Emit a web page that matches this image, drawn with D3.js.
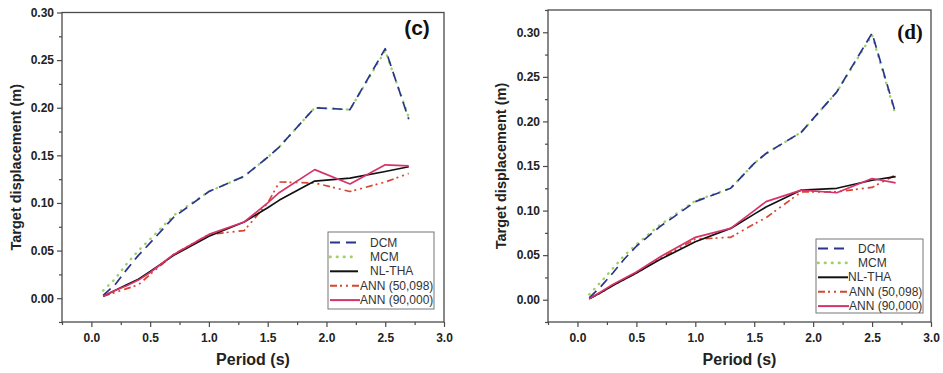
<!DOCTYPE html>
<html>
<head>
<meta charset="utf-8">
<script src="https://cdn.jsdelivr.net/npm/d3@7"></script>
<style>
  html, body { margin: 0; padding: 0; background: #fff; }
  svg { display: block; font-family: Arial, "Liberation Sans", sans-serif; }
</style>
</head>
<body>
<svg id="chart" width="943" height="373"></svg>
<script>
// ---------- data ----------
const periods = [0.1, 0.2, 0.3, 0.4, 0.5, 0.7, 1.0, 1.3, 1.5, 1.6, 1.9, 2.2, 2.5, 2.7];
const seriesNames = ["DCM", "MCM", "NL-THA", "ANN (50,098)", "ANN (90,000)"];

// panel (c)
const dcmC   = [0.003, 0.014, 0.030, 0.045, 0.058, 0.085, 0.112, 0.128, 0.148, 0.159, 0.200, 0.198, 0.262, 0.188];
const mcmC   = [0.008, 0.020, 0.036, 0.050, 0.062, 0.087, 0.112, 0.128, 0.148, 0.159, 0.200, 0.198, 0.260, 0.190];
const nlthaC = [0.002, 0.008, 0.014, 0.020, 0.028, 0.045, 0.065, 0.080, 0.095, 0.103, 0.123, 0.126, 0.133, 0.138];
const ann50C = [0.002, 0.006, 0.010, 0.014, 0.025, 0.046, 0.067, 0.071, 0.100, 0.122, 0.121, 0.112, 0.122, 0.131];
const ann90C = [0.002, 0.008, 0.013, 0.019, 0.027, 0.046, 0.067, 0.080, 0.100, 0.111, 0.135, 0.120, 0.140, 0.139];

// panel (d)
const dcmD   = [0.002, 0.015, 0.030, 0.046, 0.060, 0.082, 0.110, 0.125, 0.153, 0.164, 0.188, 0.233, 0.299, 0.209];
const mcmD   = [0.006, 0.020, 0.035, 0.050, 0.062, 0.084, 0.111, 0.125, 0.153, 0.164, 0.188, 0.233, 0.297, 0.207];
const nlthaD = [0.001, 0.008, 0.016, 0.023, 0.030, 0.045, 0.065, 0.080, 0.096, 0.104, 0.123, 0.125, 0.134, 0.138];
const ann50D = [0.001, 0.008, 0.016, 0.023, 0.030, 0.046, 0.068, 0.070, 0.085, 0.092, 0.121, 0.121, 0.126, 0.140];
const ann90D = [0.001, 0.009, 0.017, 0.024, 0.031, 0.048, 0.070, 0.080, 0.100, 0.110, 0.123, 0.120, 0.136, 0.131];

const xTickValues = [0.0, 0.5, 1.0, 1.5, 2.0, 2.5, 3.0];
const yTickValues = [0.00, 0.05, 0.10, 0.15, 0.20, 0.25, 0.30];
const xTitle = "Period (s)";
const yTitle = "Target displacement (m)";

// ---------- styles ----------
const styles = {
  "DCM":          { color: "#27358c", dash: "10,6",           width: 1.7, cap: "butt" },
  "MCM":          { color: "#9fd06a", dash: "0.5,6.5",        width: 2.4, cap: "round" },
  "NL-THA":       { color: "#111111", dash: null,             width: 1.7, cap: "butt" },
  "ANN (50,098)": { color: "#d8452e", dash: "7,3,2,4,2,4",    width: 1.7, cap: "butt" },
  "ANN (90,000)": { color: "#d6336c", dash: null,             width: 1.7, cap: "butt" }
};
const drawOrder = ["MCM", "DCM", "ANN (50,098)", "NL-THA", "ANN (90,000)"];

const panels = [
  {
    label: "(c)", labelFont: "Arial, 'Liberation Sans', sans-serif", labelX: 417, labelY: 35,
    box: { x0: 62, x1: 444, y0: 12.5, y1: 322 },
    yMax: 0.30,
    values: { "DCM": dcmC, "MCM": mcmC, "NL-THA": nlthaC, "ANN (50,098)": ann50C, "ANN (90,000)": ann90C },
    yTitleX: 16, xTitleY: 365,
    legend: { x0: 328, x1: 434, y0: 232, y1: 309, row0: 242.5, rowStep: 14.4, lineX0: 330,
              lineEnd: [358, 358, 358, 360, 360], textX: [370, 370, 370, 360, 360] }
  },
  {
    label: "(d)", labelFont: "'Liberation Serif', 'DejaVu Serif', serif", labelX: 910, labelY: 39,
    box: { x0: 548, x1: 931, y0: 10, y1: 322 },
    yMax: 0.325,
    values: { "DCM": dcmD, "MCM": mcmD, "NL-THA": nlthaD, "ANN (50,098)": ann50D, "ANN (90,000)": ann90D },
    yTitleX: 501, xTitleY: 365,
    legend: { x0: 816, x1: 923, y0: 239, y1: 313, row0: 248.5, rowStep: 14.4, lineX0: 818,
              lineEnd: [847, 847, 848, 849, 849], textX: [858, 858, 848, 849, 849] }
  }
];

const axisColor = "#4a4a4a";
const svg = d3.select("#chart");

panels.forEach(p => {
  const g = svg.append("g");
  const x = d3.scaleLinear().domain([-0.25, 3.0]).range([p.box.x0, p.box.x1]);
  const y = d3.scaleLinear().domain([-0.025, p.yMax]).range([p.box.y1, p.box.y0]);

  // frame
  g.append("rect")
    .attr("x", p.box.x0).attr("y", p.box.y0)
    .attr("width", p.box.x1 - p.box.x0).attr("height", p.box.y1 - p.box.y0)
    .attr("fill", "none").attr("stroke", axisColor).attr("stroke-width", 1.3);

  // minor ticks
  const xMinor = d3.range(-0.25, 3.0001, 0.25).filter(v => Math.abs(v * 2 - Math.round(v * 2)) > 1e-6);
  const yMinor = d3.range(-0.025, p.yMax + 0.0001, 0.025).filter(v => Math.abs(v * 20 - Math.round(v * 20)) > 1e-6);

  const xAxisMinor = d3.axisBottom(x).tickValues(xMinor).tickSize(3).tickFormat("");
  const yAxisMinor = d3.axisLeft(y).tickValues(yMinor).tickSize(3).tickFormat("");
  g.append("g").attr("transform", `translate(0,${p.box.y1})`).call(xAxisMinor);
  g.append("g").attr("transform", `translate(${p.box.x0},0)`).call(yAxisMinor);

  // major axes
  const xAxis = d3.axisBottom(x).tickValues(xTickValues).tickSize(5).tickPadding(6).tickFormat(d3.format(".1f"));
  const yAxis = d3.axisLeft(y).tickValues(yTickValues.filter(v => v <= p.yMax + 1e-9)).tickSize(5).tickPadding(3).tickFormat(d3.format(".2f"));
  g.append("g").attr("class", "xa").attr("transform", `translate(0,${p.box.y1})`).call(xAxis);
  g.append("g").attr("class", "ya").attr("transform", `translate(${p.box.x0},0)`).call(yAxis);

  g.selectAll(".domain").remove();
  g.selectAll(".tick line").attr("stroke", axisColor).attr("stroke-width", 1.2);
  g.selectAll(".tick text")
    .attr("fill", "#222").attr("font-size", 12).attr("font-weight", "bold")
    .attr("font-family", "Arial, 'Liberation Sans', sans-serif");

  // series
  drawOrder.forEach(name => {
    const st = styles[name];
    const vals = p.values[name];
    const line = d3.line().x((d, i) => x(periods[i])).y(d => y(d));
    g.append("path")
      .datum(vals)
      .attr("d", line)
      .attr("fill", "none")
      .attr("stroke", st.color)
      .attr("stroke-width", st.width)
      .attr("stroke-linejoin", "round")
      .attr("stroke-linecap", st.cap)
      .attr("stroke-dasharray", st.dash);
  });

  // axis titles
  g.append("text")
    .attr("transform", `translate(${p.yTitleX},${(p.box.y0 + p.box.y1) / 2}) rotate(-90)`)
    .attr("text-anchor", "middle").attr("dominant-baseline", "central")
    .attr("font-size", 14.5).attr("font-weight", "bold").attr("fill", "#222")
    .text(yTitle);
  g.append("text")
    .attr("x", (p.box.x0 + p.box.x1) / 2).attr("y", p.xTitleY)
    .attr("text-anchor", "middle")
    .attr("font-size", 16).attr("font-weight", "bold").attr("fill", "#222")
    .text(xTitle);

  // panel label
  g.append("text")
    .attr("x", p.labelX).attr("y", p.labelY)
    .attr("text-anchor", "middle")
    .attr("font-family", p.labelFont)
    .attr("font-size", 21).attr("font-weight", "bold").attr("fill", "#111")
    .text(p.label);

  // legend
  const L = p.legend;
  g.append("rect")
    .attr("x", L.x0).attr("y", L.y0).attr("width", L.x1 - L.x0).attr("height", L.y1 - L.y0)
    .attr("fill", "#fff").attr("stroke", "#777").attr("stroke-width", 1);
  seriesNames.forEach((name, i) => {
    const st = styles[name];
    const ry = L.row0 + i * L.rowStep;
    g.append("line")
      .attr("x1", L.lineX0).attr("x2", L.lineEnd[i])
      .attr("y1", ry).attr("y2", ry)
      .attr("stroke", st.color).attr("stroke-width", st.width + 0.3)
      .attr("stroke-linecap", st.cap)
      .attr("stroke-dasharray", st.dash);
    g.append("text")
      .attr("x", L.textX[i]).attr("y", ry)
      .attr("dominant-baseline", "central")
      .attr("font-size", 12).attr("fill", "#333")
      .text(name);
  });
});
</script>
</body>
</html>
